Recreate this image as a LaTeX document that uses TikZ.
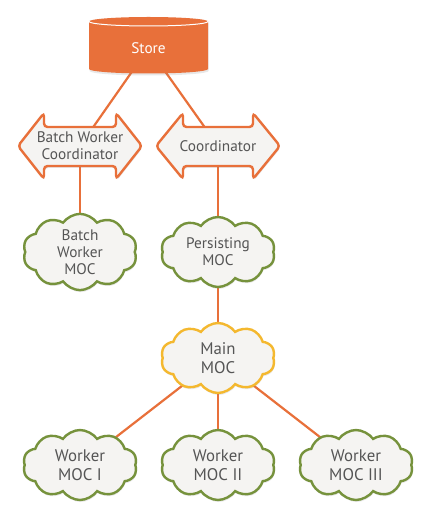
\documentclass[tikz,border=0pt]{standalone}
\usepackage{fontspec}
\setmainfont{PT Sans}
\usetikzlibrary{shapes.symbols,shadows}
\definecolor{orng}{HTML}{E8703A}
\definecolor{mocgreen}{HTML}{76923C}
\definecolor{mainyel}{HTML}{F4B82F}
\definecolor{cloudfill}{HTML}{F5F4F2}
\definecolor{txtgrey}{HTML}{555555}
\pgfdeclarelayer{bg}
\pgfsetlayers{bg,main}
\tikzset{
  conn/.style={draw=orng, line width=2.2pt},
  shad/.style={drop shadow={opacity=0.18, shadow xshift=0.6pt, shadow yshift=-2pt}},
  moc/.style={cloud, cloud puffs=10, cloud puff arc=110, aspect=1.6, draw=mocgreen,
    line width=2.4pt, fill=cloudfill, inner sep=0pt, minimum width=114pt,
    minimum height=70pt, align=center, text=txtgrey, shad},
  smalltxt/.style={font=\fontsize{15.3}{16.8}\selectfont},
  bigtxt/.style={font=\fontsize{16.8}{18.8}\selectfont},
  coordshape/.style={draw=orng, line width=2.4pt, fill=cloudfill, rounded corners=3.5pt, shad},
  label/.style={align=center, text=txtgrey, inner sep=0pt}
}
\begin{document}
\begin{tikzpicture}[x=1pt,y=-1pt]
\useasboundingbox (0,0) rectangle (435,521);
% Store cylinder
\fill[orng, shad] (89,21.5) -- (89,69) arc[start angle=180, end angle=0, x radius=59.5, y radius=4.5]
  -- (208,21.5) arc[start angle=0, end angle=-180, x radius=59.5, y radius=4.5] -- cycle;
\draw[white, line width=1pt] (89,21.5) arc[start angle=180, end angle=0, x radius=59.5, y radius=4.5];
\node[label, text=white, smalltxt] (store) at (148.5,48) {Store};
% Batch Worker Coordinator
\draw[coordshape] (18,146) -- (44,113) -- (44,127) -- (116,127) -- (116,113) -- (142,146)
  -- (116,179) -- (116,166) -- (44,166) -- (44,179) -- cycle;
\node[label, smalltxt] (bwc) at (80,146) {Batch Worker\\Coordinator};
% Coordinator
\draw[coordshape] (156,146) -- (183,113) -- (183,127) -- (253,127) -- (253,113) -- (280,146)
  -- (253,179) -- (253,166) -- (183,166) -- (183,179) -- cycle;
\node[label, smalltxt] (coord) at (218,146) {Coordinator};
% MOCs
\node[moc, smalltxt] (bwm) at (80,252) {Batch\\Worker\\MOC};
\node[moc, smalltxt] (pm) at (218,252) {Persisting\\MOC};
\node[moc, bigtxt, draw=mainyel] (mm) at (218,358) {Main\\MOC};
\node[moc, bigtxt] (w1) at (80,465) {Worker\\MOC I};
\node[moc, bigtxt] (w2) at (218,465) {Worker\\MOC II};
\node[moc, bigtxt] (w3) at (356,465) {Worker\\MOC III};
% connectors
\begin{pgfonlayer}{bg}
\fill[white] (0,0) rectangle (435,521);
\draw[conn] (store.center) -- (bwc.center);
\draw[conn] (store.center) -- (coord.center);
\draw[conn] (bwc.center) -- (bwm.center);
\draw[conn] (coord.center) -- (pm.center);
\draw[conn] (pm.center) -- (mm.center);
\draw[conn] (mm.center) -- (w1.center);
\draw[conn] (mm.center) -- (w2.center);
\draw[conn] (mm.center) -- (w3.center);
\end{pgfonlayer}
\end{tikzpicture}
\end{document}
